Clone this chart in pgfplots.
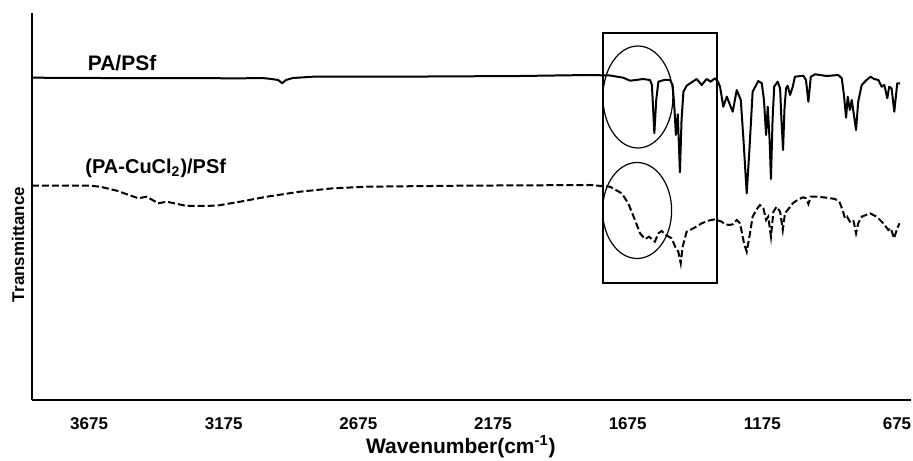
\documentclass[border=0pt]{standalone}
\usepackage{pgfplots}
\pgfplotsset{compat=1.18}
\usepackage{fontspec}
\setmainfont{Liberation Sans}
\usetikzlibrary{calc}

\begin{document}
\begin{tikzpicture}
\begin{axis}[
  scale only axis,
  width=439.5pt, height=193.5pt,
  x dir=reverse,
  xmin=623, xmax=3887,
  ymin=0, ymax=387,
  axis x line*=bottom, axis y line*=left,
  axis line style={-, line width=1pt},
  xtick={675,1175,...,3675},
  ytick=\empty,
  major tick length=0pt,
  clip=false,
  /pgf/number format/assume math mode=true,
  /pgf/number format/set thousands separator={},
  xticklabel style={font=\bfseries\fontsize{8.5}{9}\selectfont, anchor=center, yshift=-12pt},
  xlabel={Wavenumber(cm\textsuperscript{-1})},
  xlabel style={font=\bfseries\fontsize{10.5}{12}\selectfont, at={(axis description cs:0.488,0)}, anchor=center, yshift=-23.5pt},
]
% PA/PSf
\addplot[black, line width=1pt, line join=round] coordinates {
(3887,322.3)(3634,322)(3103,321.7)(3033,322)(3003,321.2)(2973,320)(2958,316.7)(2944,320)
(2918,322)(2843,323.3)(2409,323.5)(2075,324)(1815,325)(1741,324.5)(1692,322.3)(1666,319.3)
(1644,320)(1618,321)(1592,320)(1585,315)(1576,266.7)(1569,300)(1561,318.3)(1540,320)
(1518,320)(1508,315)(1501,290)(1496,265)(1489,285.7)(1481,227.7)(1475,280)(1468,308.3)
(1456,314.3)(1419,321)(1400,315)(1382,321)(1367,318.3)(1351,321.7)(1341,319)(1332,313.3)
(1320,293.3)(1307,303.3)(1285,288.3)(1270,310)(1255,300)(1245,260)(1233,206.7)(1223,250)
(1211,308.3)(1190,319)(1177,316.7)(1169,300)(1161,265)(1155,293.3)(1148,260)(1143,221)
(1137,280)(1131,313.3)(1118,318.3)(1109,311.7)(1104,280)(1098,250)(1093,290)(1087,311.7)
(1081,314.3)(1072,305)(1062,313.3)(1054,323.3)(1023,324.3)(1013,320)(1004,298.3)(995,323.3)
(979,325.7)(936,324)(893,325)(880,321.7)(872,305)(864,282.3)(858,303.3)(850,290)
(843,300)(827,270)(819,298.3)(806,315)(788,320)(773,323.3)(760,321)(744,320)
(732,313.3)(722,315)(711,301.7)(704,313.3)(695,311.7)(685,288.3)(674,316.7)(664,316.7)
};
% (PA-CuCl2)/PSf
\addplot[black, line width=1pt, dash pattern=on 3.5pt off 1.5pt] coordinates {
(3887,214.3)(3671,214.3)(3634,213.3)(3572,209.3)(3492,201.7)(3461,203.3)(3418,196.7)(3387,198.3)
(3312,194)(3201,194.3)(3114,198.3)(3015,203.3)(2892,208.3)(2769,211.7)(2644,213.3)(2298,214.3)
(1815,215)(1741,213.3)(1697,206.7)(1673,196.7)(1648,180)(1629,166.7)(1611,161)(1595,163.3)
(1582,160)(1574,158.3)(1561,166.7)(1549,169)(1533,165)(1512,161.7)(1496,151.7)(1487,148.3)
(1478,136.7)(1471,153.3)(1456,168.3)(1431,171.7)(1400,176.7)(1376,179.3)(1351,180.7)(1326,178.3)
(1314,175.7)(1298,175)(1285,175.7)(1270,180)(1258,176.7)(1243,156.7)(1233,148.3)(1223,163.3)
(1211,183.3)(1196,190.7)(1184,195)(1171,191.7)(1161,180)(1153,183.3)(1143,163.3)(1134,188.3)
(1122,193.3)(1109,188.3)(1099,170)(1091,186.7)(1079,190.7)(1062,196.7)(1041,200.7)(1023,202.7)
(1013,201.7)(1004,196)(995,203.3)(973,203.3)(936,202.3)(905,201)(889,198.3)(877,190)
(868,181.7)(860,183.3)(850,178.3)(837,180)(827,166.7)(819,176.7)(806,183.3)(775,186.7)
(750,183.3)(726,176.7)(707,170)(698,171.7)(686,161.7)(676,170)(666,176.7)
};
% annotations
\draw[line width=0.8pt] (axis cs:1767,366.7) rectangle (axis cs:1343,117);
\draw[line width=0.6pt] (axis cs:1637,303) ellipse [x radius=17.5pt, y radius=25.5pt];
\draw[line width=0.6pt] (axis cs:1640,189.5) ellipse [x radius=17.25pt, y radius=24pt];
\node[anchor=base west, inner sep=0pt, font=\bfseries\fontsize{10.5}{12}\selectfont] at (axis cs:3681,329.3) {PA/PSf};
\node[anchor=base west, inner sep=0pt, font=\bfseries\fontsize{10}{12}\selectfont] at (axis cs:3690,226.7) {(PA-CuCl\textsubscript{2})/PSf};
\end{axis}
\node[rotate=90, anchor=center, inner sep=0pt, font=\bfseries\fontsize{8.5}{9}\selectfont] at ($(current axis.south west)+(-7pt,77.8pt)$) {Transmittance};
\pgfresetboundingbox
\path[use as bounding box] ($(current axis.south west)+(-16pt,-30.5pt)$) rectangle ($(current axis.north east)+(1pt,6.5pt)$);
\end{tikzpicture}
\end{document}
